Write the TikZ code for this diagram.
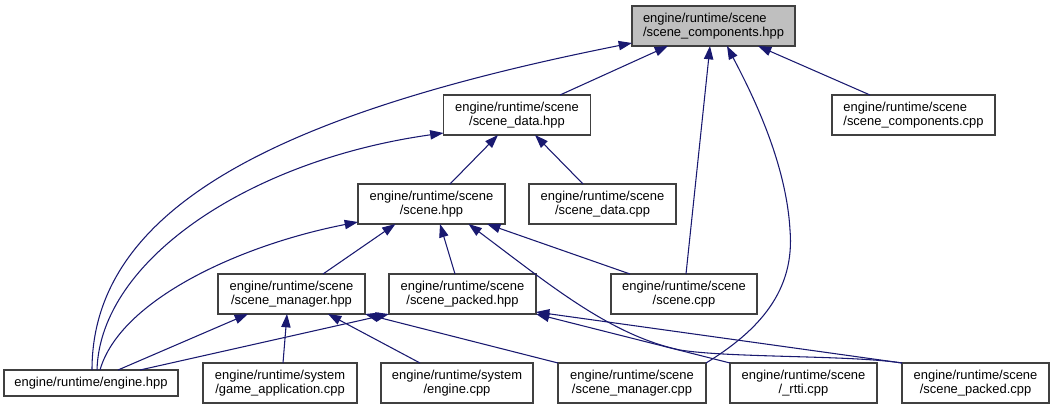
\documentclass[tikz,border=0pt]{standalone}
\usepackage{fontspec}
\setmainfont{Liberation Sans}
\usepackage{xcolor}
\usetikzlibrary{arrows.meta, calc}

\definecolor{edgeblue}{HTML}{191970}
\definecolor{boxgrey}{HTML}{BFBFBF}

\begin{document}
\begin{tikzpicture}[
    x=0.75pt, y=-0.75pt,
    file/.style={rectangle, draw=black!75, line width=0.9pt, fill=white, minimum width=110.25pt, minimum height=30pt, inner sep=0pt, outer sep=0pt, align=center, font=\fontsize{9.7}{10.7}\selectfont},
    filekey/.style={file, fill=boxgrey},
    dep/.style={-{Triangle[length=10pt, width=7pt]}, line width=0.8pt, draw=edgeblue},
  ]
  \useasboundingbox (0,0) rectangle (1052,409);

  % Header that is included
  \node[filekey, align=left, minimum width=122.25pt] (comph) at (713.5,26) {engine/runtime/scene\\/scene\_components.hpp};

  % Second row
  \node[file] (datah) at (517,115) {engine/runtime/scene\\/scene\_data.hpp};
  \node[file, align=left, minimum width=122.25pt] (compc) at (913.5,115) {engine/runtime/scene\\/scene\_components.cpp};

  % Third row
  \node[file] (sceneh) at (431.5,204) {engine/runtime/scene\\/scene.hpp};
  \node[file] (datac) at (602.5,204) {engine/runtime/scene\\/scene\_data.cpp};

  % Fourth row
  \node[file] (mgrh) at (291.5,294) {engine/runtime/scene\\/scene\_manager.hpp};
  \node[file] (packh) at (462.5,294) {engine/runtime/scene\\/scene\_packed.hpp};
  \node[file, minimum width=109.5pt] (scenec) at (684,294) {engine/runtime/scene\\/scene.cpp};

  % Bottom row
  \node[file, minimum width=130.5pt, minimum height=19.5pt] (engh) at (91,383) {engine/runtime/engine.hpp};
  \node[file, minimum width=115.5pt] (gamec) at (280,383) {engine/runtime/system\\/game\_application.cpp};
  \node[file, minimum width=114pt] (engc) at (457,383) {engine/runtime/system\\/engine.cpp};
  \node[file, minimum width=111pt] (mgrc) at (632,383) {engine/runtime/scene\\/scene\_manager.cpp};
  \node[file] (rttic) at (803.5,383) {engine/runtime/scene\\/\_rtti.cpp};
  \node[file] (packc) at (975.5,383) {engine/runtime/scene\\/scene\_packed.cpp};

  % Arrows
  \draw[dep] ($(engh.north)+(1,0)$) .. controls (92,205) and (285,112) .. ($(comph.south west)+(0,-3)$);
  \draw[dep] ($(engh.north)+(6,0)$) .. controls (100,260) and (250,160) .. ($(datah.south west)+(0,-2)$);
  \draw[dep] ($(engh.north)+(9,0)$) .. controls (120,300) and (240,245) .. ($(sceneh.south west)+(0,-2)$);
  \draw[dep] ($(engh.north)+(27,0)$) -- ($(mgrh.south west)+(30,0)$);
  \draw[dep] ($(engh.north)+(49,0)$) -- (packh.south west);
  \draw[dep] ($(gamec.north)+(3,0)$) -- ($(mgrh.south)+(-4.5,0)$);
  \draw[dep] ($(engc.north)+(-37,0)$) -- ($(mgrh.south)+(36.5,0)$);
  \draw[dep] (mgrc.north west) -- (mgrh.south east);
  \draw[dep] (mgrc.north east) .. controls (760,330) and (795,290) .. (790,230) .. controls (786,160) and (750,90) .. ($(comph.south)+(13.5,0)$);
  \draw[dep] ($(mgrh.north)+(31.5,0)$) -- ($(sceneh.south)+(-36,0)$);
  \draw[dep] ($(packh.north)+(-7.5,0)$) -- ($(sceneh.south)+(8.5,0)$);
  \draw[dep] ($(scenec.north)+(-54,0)$) -- ($(sceneh.south east)+(-18,0)$);
  \draw[dep] ($(scenec.north)+(2,0)$) -- ($(comph.south)+(-3.5,0)$);
  \draw[dep] (packc.north west) .. controls (850,355) and (730,358) .. (680,350) .. controls (610,335) and (550,285) .. ($(sceneh.south)+(37,0)$);
  \draw[dep] (packc.north west) -- ($(packh.south east)+(0,-2)$);
  \draw[dep] (rttic.north west) -- (packh.south east);
  \draw[dep] ($(sceneh.north)+(18.5,0)$) -- ($(datah.south)+(-19,0)$);
  \draw[dep] ($(datac.north)+(-19.5,0)$) -- ($(datah.south)+(18,0)$);
  \draw[dep] ($(datah.north)+(43,0)$) -- ($(comph.south)+(-45.5,0)$);
  \draw[dep] ($(compc.north)+(-43.5,0)$) -- ($(comph.south)+(44.5,0)$);

\end{tikzpicture}
\end{document}
